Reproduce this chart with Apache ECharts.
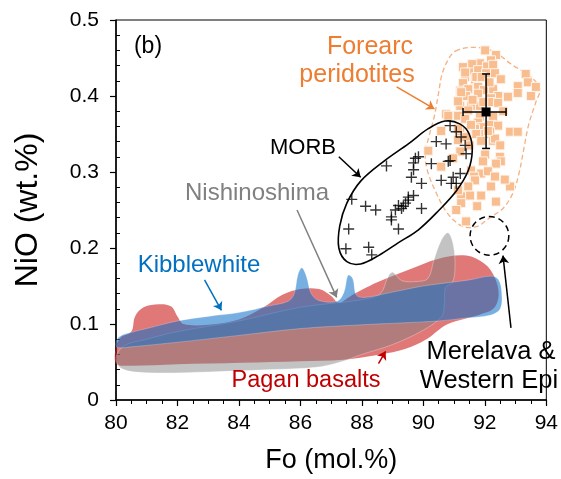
<!DOCTYPE html>
<html>
<head>
    <meta charset="utf-8">
    <title>NiO vs Fo</title>
    <script src="https://cdn.jsdelivr.net/npm/echarts@6.0.0/dist/echarts.min.js"></script>
    <style>
        html, body { margin: 0; padding: 0; background: #fff; }
        #main { width: 561px; height: 479px; }
    </style>
</head>
<body>
    <div id="main"></div>
    <script type="text/javascript">
        // ---- data (Fo mol.%, NiO wt.%) ----
        var paganOutline = [
            [80.0, 0.048], [80.0, 0.070], [80.15, 0.082], [80.5, 0.090], [80.62, 0.110], [80.9, 0.122],
            [81.4, 0.126], [81.8, 0.123], [82.0, 0.110], [82.2, 0.100], [83.0, 0.099], [84.0, 0.106],
            [84.8, 0.122], [85.4, 0.138], [86.0, 0.146], [86.6, 0.146], [87.0, 0.137], [87.25, 0.128],
            [87.6, 0.136], [88.0, 0.145], [88.5, 0.155], [89.5, 0.171], [90.5, 0.186], [91.4, 0.190],
            [92.0, 0.179], [92.3, 0.163], [92.45, 0.140], [92.3, 0.121], [91.8, 0.112], [90.8, 0.100],
            [90.1, 0.080], [89.4, 0.067], [88.6, 0.060], [87.4, 0.053], [86.0, 0.051], [84.1, 0.049],
            [82.0, 0.047], [80.4, 0.045]
        ];
        var nishinoshimaOutline = [
            [80.0, 0.055], [80.25, 0.071], [81.0, 0.080], [82.0, 0.090], [84.0, 0.104], [86.0, 0.122],
            [88.0, 0.132], [88.6, 0.140], [88.85, 0.162], [89.0, 0.168], [89.3, 0.157], [89.8, 0.156],
            [90.15, 0.160], [90.35, 0.185], [90.58, 0.210], [90.8, 0.220], [90.97, 0.205], [91.03, 0.175],
            [90.95, 0.155], [90.72, 0.148], [90.68, 0.125], [90.6, 0.110], [90.0, 0.092], [89.0, 0.073],
            [88.0, 0.060], [87.3, 0.050], [86.5, 0.043], [85.0, 0.040], [83.0, 0.037], [81.0, 0.036],
            [80.2, 0.041]
        ];
        var kibblewhiteOutline = [
            [80.0, 0.074], [80.1, 0.083], [80.5, 0.089], [81.0, 0.094], [82.0, 0.104], [83.0, 0.110],
            [84.0, 0.115], [85.0, 0.124], [85.6, 0.130], [85.8, 0.140], [85.92, 0.165], [86.05, 0.174],
            [86.2, 0.162], [86.35, 0.140], [86.6, 0.131], [87.2, 0.130], [87.42, 0.142], [87.55, 0.164],
            [87.7, 0.160], [87.82, 0.138], [88.1, 0.135], [89.0, 0.142], [90.0, 0.150], [91.5, 0.158],
            [92.2, 0.163], [92.45, 0.158], [92.55, 0.140], [92.5, 0.120], [92.2, 0.112], [91.4, 0.108],
            [90.5, 0.104], [88.0, 0.099], [86.0, 0.094], [84.0, 0.085], [82.0, 0.076], [80.5, 0.070],
            [80.05, 0.069]
        ];
        var forearcOutline = [
            [91.04, 0.459], [91.62, 0.464], [92.27, 0.459], [92.85, 0.442], [93.50, 0.425], [93.79, 0.409],
            [93.66, 0.392], [93.43, 0.363], [93.27, 0.331], [93.11, 0.298], [92.91, 0.272], [92.59, 0.252],
            [92.17, 0.240], [91.72, 0.228], [91.25, 0.229], [90.78, 0.246], [90.39, 0.275], [90.13, 0.302],
            [90.06, 0.324], [90.19, 0.348], [90.36, 0.374], [90.49, 0.403], [90.61, 0.429], [90.81, 0.448]
        ];
        var morbOutline = [
            [90.71, 0.367], [91.20, 0.363], [91.49, 0.350], [91.59, 0.328], [91.46, 0.302], [91.07, 0.275],
            [90.49, 0.249], [89.84, 0.224], [89.19, 0.207], [88.54, 0.190], [87.96, 0.179], [87.51, 0.182],
            [87.25, 0.200], [87.28, 0.229], [87.51, 0.259], [87.96, 0.288], [88.71, 0.314], [89.51, 0.337],
            [90.16, 0.357]
        ];
        var morbPoints = [
            [88.80, 0.308], [87.67, 0.264], [88.12, 0.255], [88.45, 0.250], [88.96, 0.241], [89.09, 0.250],
            [89.19, 0.256], [89.35, 0.255], [89.51, 0.267], [87.57, 0.225], [89.19, 0.225], [87.48, 0.199],
            [88.22, 0.201], [88.32, 0.191], [89.61, 0.293], [89.74, 0.318], [89.68, 0.303], [90.42, 0.340],
            [90.74, 0.337], [89.84, 0.320], [89.68, 0.312], [90.26, 0.311], [90.87, 0.315], [90.58, 0.289],
            [90.91, 0.285], [91.20, 0.298], [91.07, 0.285], [89.68, 0.269], [89.51, 0.263], [89.42, 0.259],
            [89.29, 0.252], [89.94, 0.252], [91.36, 0.335], [91.39, 0.324], [91.07, 0.353], [90.87, 0.361],
            [91.23, 0.346], [90.81, 0.314], [89.94, 0.285], [90.97, 0.293], [88.96, 0.237]
        ];
        var forearcPoints = [
            [92.01, 0.460], [92.36, 0.454], [92.20, 0.447], [91.84, 0.443], [91.59, 0.442], [92.07, 0.439],
            [91.29, 0.438], [92.27, 0.441], [91.52, 0.431], [91.78, 0.434], [92.04, 0.430], [92.33, 0.430],
            [91.36, 0.425], [91.68, 0.422], [92.52, 0.422], [93.33, 0.429], [91.29, 0.417], [91.20, 0.407],
            [91.46, 0.409], [91.78, 0.412], [91.97, 0.408], [92.27, 0.409], [93.07, 0.413], [93.40, 0.418],
            [93.66, 0.412], [91.39, 0.400], [91.78, 0.403], [92.43, 0.400], [93.07, 0.404], [93.50, 0.400],
            [92.75, 0.399], [92.20, 0.397], [91.20, 0.387], [91.55, 0.387], [91.84, 0.387], [92.20, 0.392],
            [92.43, 0.391], [91.46, 0.381], [91.13, 0.374], [90.74, 0.376], [91.36, 0.370], [91.84, 0.373],
            [92.27, 0.373], [91.78, 0.365], [91.88, 0.359], [91.68, 0.357], [91.55, 0.362], [92.20, 0.362],
            [92.43, 0.361], [92.01, 0.350], [91.72, 0.350], [92.17, 0.353], [92.82, 0.353], [93.07, 0.353],
            [91.20, 0.353], [91.13, 0.342], [91.39, 0.346], [91.88, 0.341], [92.27, 0.341], [92.33, 0.344],
            [90.16, 0.328], [91.20, 0.327], [92.01, 0.323], [92.49, 0.320], [92.52, 0.314], [91.94, 0.314],
            [92.36, 0.311], [90.58, 0.307], [91.55, 0.302], [91.88, 0.298], [91.65, 0.294], [92.10, 0.301],
            [92.33, 0.294], [91.68, 0.289], [92.82, 0.281], [91.46, 0.281], [92.20, 0.281], [91.23, 0.268],
            [91.52, 0.269], [91.88, 0.269], [92.36, 0.261], [91.23, 0.259], [91.07, 0.250], [91.39, 0.235],
            [90.58, 0.354], [91.13, 0.357], [90.97, 0.318], [91.13, 0.276], [90.81, 0.374], [91.23, 0.405],
            [91.72, 0.425], [91.36, 0.431], [91.13, 0.393], [92.10, 0.354], [91.90, 0.425], [92.15, 0.418],
            [91.60, 0.395], [92.60, 0.380], [91.95, 0.392], [92.50, 0.335], [91.50, 0.335], [92.65, 0.290],
            [91.75, 0.255]
        ];
        // mean with error bars: [Fo, NiO, FoMin, FoMax, NiOMin, NiOMax]
        var forearcMean = [[92.04, 0.379, 91.29, 92.69, 0.331, 0.429]];
        // Merelava & Western Epi field: [Fo, NiO, Fo radius]
        var merelavaField = [[92.15, 0.216, 0.63]];

        // annotation arrows: [from, to, colour]
        var arrows = [
            [[89.13, 0.412], [90.36, 0.383], '#ED7D31'],
            [[87.25, 0.320], [87.96, 0.293], '#000000'],
            [[85.89, 0.250], [87.18, 0.135], '#808080'],
            [[82.88, 0.158], [83.43, 0.118], '#0070C0'],
            [[88.54, 0.048], [88.77, 0.064], '#C00000'],
            [[92.85, 0.095], [92.59, 0.190], '#000000']
        ];

        var FONT = '"Liberation Sans", Arial, sans-serif';
        var chart = echarts.init(document.getElementById('main'));

        function outlineSeries(points, style, z) {
            return {
                type: 'custom',
                coordinateSystem: 'cartesian2d',
                z: z,
                silent: true,
                animation: false,
                data: points,
                encode: { x: 0, y: 1 },
                renderItem: function (params, api) {
                    if (params.dataIndex !== 0) return null;
                    var pts = points.map(function (p) { return api.coord(p); });
                    return {
                        type: 'polygon',
                        shape: { points: pts, smooth: 0.35 },
                        style: style
                    };
                }
            };
        }

        var series = [
            outlineSeries(paganOutline, { fill: 'rgba(205,30,30,0.6)' }, 1),
            outlineSeries(nishinoshimaOutline, { fill: 'rgba(130,130,130,0.48)', stroke: 'rgba(255,255,255,0.5)', lineWidth: 0.6 }, 2),
            outlineSeries(kibblewhiteOutline, { fill: 'rgba(14,112,202,0.56)', stroke: 'rgba(255,255,255,0.4)', lineWidth: 0.6 }, 3),
            outlineSeries(forearcOutline, { fill: 'none', stroke: '#F4B183', lineWidth: 1.3, lineDash: [5, 3] }, 4),
            {
                type: 'scatter',
                z: 5,
                silent: true,
                animation: false,
                symbol: 'rect',
                symbolSize: 9,
                itemStyle: { color: '#F9BE90', borderColor: '#fff4ec', borderWidth: 1, opacity: 1 },
                data: forearcPoints
            },
            outlineSeries(morbOutline, { fill: 'none', stroke: '#000', lineWidth: 1.6 }, 6),
            {
                type: 'scatter',
                z: 7,
                silent: true,
                animation: false,
                symbol: 'path://M0,5L10,5M5,0L5,10',
                symbolSize: 11,
                itemStyle: { color: 'rgba(0,0,0,0)', borderColor: '#000', borderWidth: 1.4 },
                data: morbPoints
            },
            {
                type: 'custom',
                coordinateSystem: 'cartesian2d',
                z: 8,
                silent: true,
                animation: false,
                data: forearcMean,
                encode: { x: 0, y: 1 },
                renderItem: function (params, api) {
                    var c = api.coord([api.value(0), api.value(1)]);
                    var l = api.coord([api.value(2), api.value(1)]);
                    var r = api.coord([api.value(3), api.value(1)]);
                    var b = api.coord([api.value(0), api.value(4)]);
                    var t = api.coord([api.value(0), api.value(5)]);
                    var cap = 4;
                    var ls = { stroke: '#000', lineWidth: 1.5 };
                    return {
                        type: 'group',
                        children: [
                            { type: 'line', shape: { x1: l[0], y1: c[1], x2: r[0], y2: c[1] }, style: ls },
                            { type: 'line', shape: { x1: c[0], y1: b[1], x2: c[0], y2: t[1] }, style: ls },
                            { type: 'line', shape: { x1: l[0], y1: c[1] - cap, x2: l[0], y2: c[1] + cap }, style: ls },
                            { type: 'line', shape: { x1: r[0], y1: c[1] - cap, x2: r[0], y2: c[1] + cap }, style: ls },
                            { type: 'line', shape: { x1: c[0] - cap, y1: b[1], x2: c[0] + cap, y2: b[1] }, style: ls },
                            { type: 'line', shape: { x1: c[0] - cap, y1: t[1], x2: c[0] + cap, y2: t[1] }, style: ls },
                            { type: 'rect', shape: { x: c[0] - 4.5, y: c[1] - 4.5, width: 9, height: 9 }, style: { fill: '#000' } }
                        ]
                    };
                }
            },
            {
                type: 'custom',
                coordinateSystem: 'cartesian2d',
                z: 8,
                silent: true,
                animation: false,
                data: merelavaField,
                encode: { x: 0, y: 1 },
                renderItem: function (params, api) {
                    var c = api.coord([api.value(0), api.value(1)]);
                    var rad = api.size([api.value(2), 0])[0];
                    return {
                        type: 'circle',
                        shape: { cx: c[0], cy: c[1], r: rad },
                        style: { fill: 'none', stroke: '#000', lineWidth: 1.5, lineDash: [6, 4] }
                    };
                }
            },
            {
                type: 'lines',
                coordinateSystem: 'cartesian2d',
                z: 9,
                silent: true,
                animation: false,
                symbol: ['none', 'arrow'],
                symbolSize: 8,
                lineStyle: { width: 1.5, opacity: 1, curveness: 0 },
                data: arrows.map(function (a) {
                    return { coords: [a[0], a[1]], lineStyle: { color: a[2] } };
                })
            }
        ];

        function label(text, x, y, color, size) {
            return {
                type: 'text',
                x: x,
                y: y,
                z: 100,
                style: {
                    text: text,
                    fill: color,
                    font: size + 'px ' + FONT,
                    align: 'center',
                    verticalAlign: 'middle'
                }
            };
        }

        var option = {
            backgroundColor: '#fff',
            animation: false,
            grid: {
                left: 116,
                top: 20,
                right: 12,
                bottom: 76,
                show: true,
                borderColor: '#000',
                borderWidth: 1,
                backgroundColor: 'transparent'
            },
            xAxis: {
                type: 'value',
                min: 80,
                max: 94,
                interval: 2,
                name: 'Fo (mol.%)',
                nameLocation: 'middle',
                nameGap: 47,
                nameTextStyle: { fontFamily: FONT, fontSize: 27, color: '#000' },
                axisLine: { lineStyle: { color: '#000', width: 1.5 } },
                axisTick: { length: 6, lineStyle: { color: '#000', width: 1.2 } },
                minorTick: { show: true, splitNumber: 4, length: 4, lineStyle: { color: '#000', width: 1 } },
                axisLabel: { fontFamily: FONT, fontSize: 21, color: '#000', margin: 13 },
                splitLine: { show: false },
                minorSplitLine: { show: false }
            },
            yAxis: [
                {
                    type: 'value',
                    min: 0,
                    max: 0.5,
                    interval: 0.1,
                    name: 'NiO (wt.%)',
                    nameLocation: 'middle',
                    nameGap: 72,
                    nameTextStyle: { fontFamily: FONT, fontSize: 32, color: '#000' },
                    axisLine: { lineStyle: { color: '#000', width: 1.5 } },
                    axisTick: { length: 6, lineStyle: { color: '#000', width: 1.2 } },
                    axisLabel: { fontFamily: FONT, fontSize: 21, color: '#000', margin: 17 },
                    splitLine: { show: false }
                },
                {
                    type: 'value',
                    min: 0,
                    max: 0.5,
                    interval: 0.1,
                    position: 'left',
                    axisLine: { show: false },
                    axisTick: { show: false, inside: true },
                    minorTick: { show: true, splitNumber: 5, length: 4, lineStyle: { color: '#000', width: 1 } },
                    axisLabel: { show: false },
                    splitLine: { show: false }
                }
            ],
            series: series,
            graphic: [
                label('(b)', 148, 47, '#000', 23),
                label('Forearc', 370, 47, '#ED7D31', 25),
                label('peridotites', 357, 75, '#ED7D31', 25),
                label('MORB', 303, 148, '#000', 22),
                label('Nishinoshima', 257, 193, '#808080', 24),
                label('Kibblewhite', 199, 265, '#0070C0', 24),
                label('Pagan basalts', 306, 381, '#C00000', 23.5),
                label('Merelava &', 491, 352, '#000', 25.5),
                label('Western Epi', 489, 381, '#000', 25.5)
            ]
        };

        chart.setOption(option);
        window.addEventListener('resize', function () {
            chart.resize();
        });
    </script>
</body>
</html>
